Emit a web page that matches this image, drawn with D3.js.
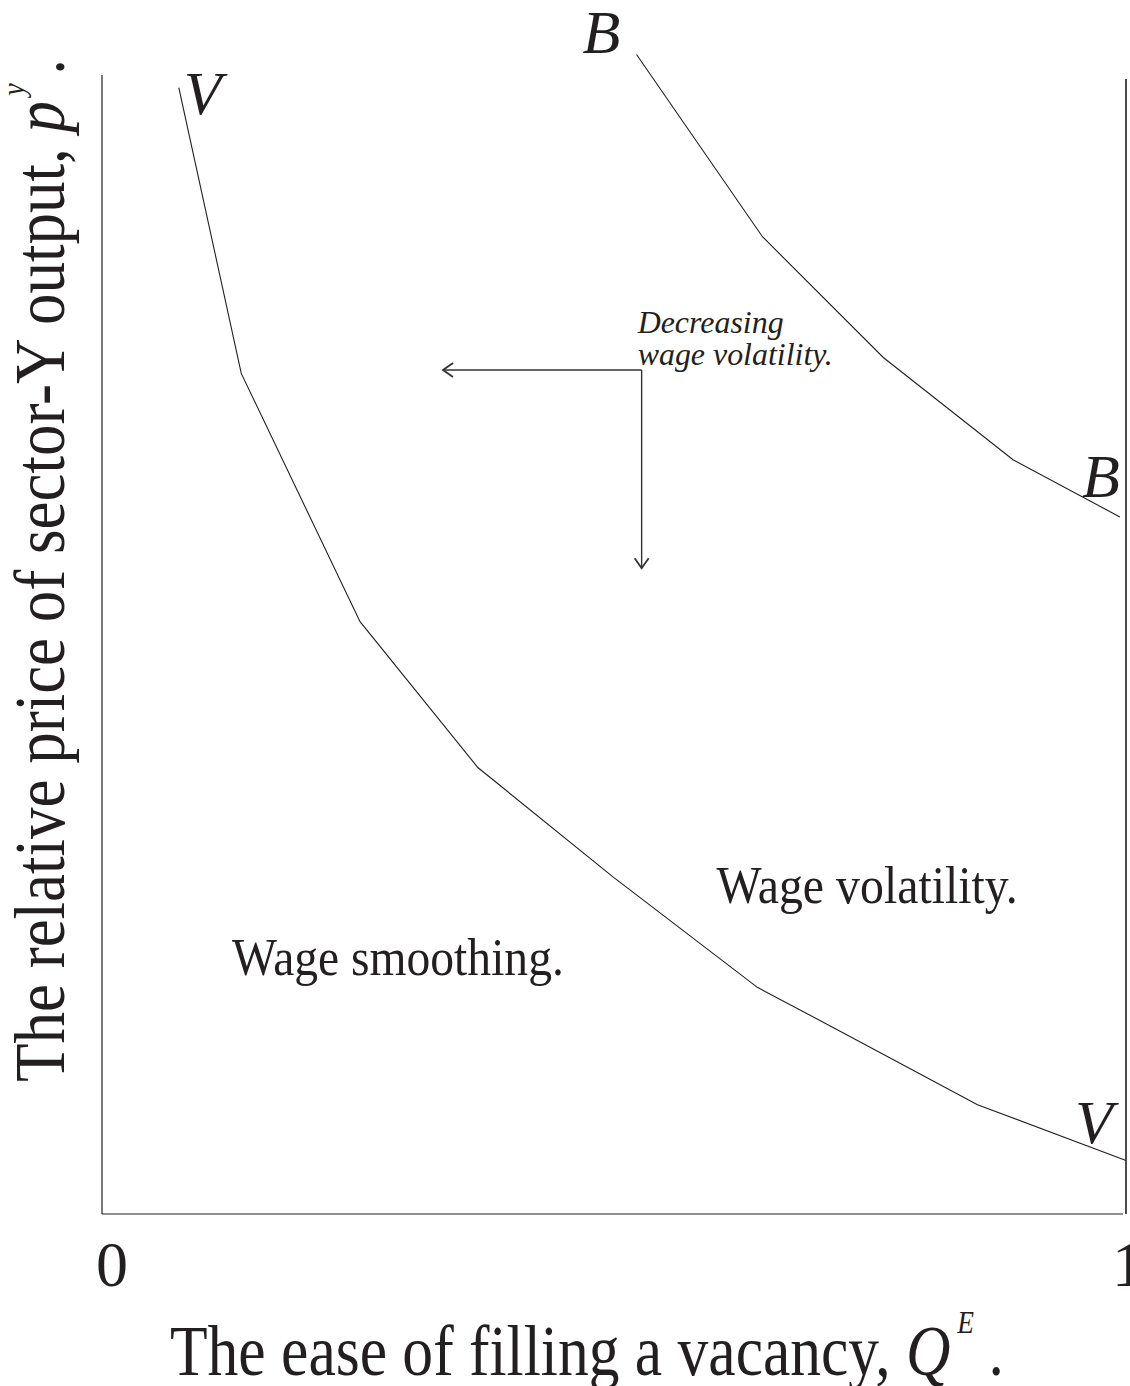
<!DOCTYPE html>
<html>
<head>
<meta charset="utf-8">
<script src="https://cdn.jsdelivr.net/npm/d3@7"></script>
<style>
  html, body { margin: 0; padding: 0; background: #fff; }
  svg { display: block; }
  text { font-family: "Liberation Serif", "Times New Roman", Times, serif; fill: #231f20; }
</style>
</head>
<body>
<svg id="chart" width="1130" height="1386"></svg>
<script>
// ---- data ----
const vCurveX = [0.075, 0.136, 0.252, 0.367, 0.499, 0.640, 0.724, 0.855, 1.000];
const vCurveY = [0.989, 0.738, 0.520, 0.392, 0.296, 0.199, 0.159, 0.096, 0.047];
const bCurveX = [0.522, 0.645, 0.763, 0.890, 0.994];
const bCurveY = [1.018, 0.858, 0.752, 0.662, 0.612];
const xTickValues = [0, 1];
const xTickLabels = ["0", "1"];
const regionLabels = ["Wage smoothing.", "Wage volatility."];
const arrowNote = ["Decreasing", "wage volatility."];
const arrowOrigin = [0.527, 0.741];   // [x, y] in data units
const arrowLeftEndX = 0.333;
const arrowDownEndY = 0.567;

const svg = d3.select("#chart");
const ink = "#231f20";

const x = d3.scaleLinear().domain([0, 1]).range([102, 1126]);
const y = d3.scaleLinear().domain([0, 1]).range([1214, 75]);

// ---- frame: left axis, bottom axis, right boundary ----
svg.append("line").attr("x1", x(0)).attr("x2", x(0)).attr("y1", y(1)).attr("y2", y(0))
  .attr("stroke", ink).attr("stroke-width", 1.2);
svg.append("line").attr("x1", x(0)).attr("x2", x(1) - 3).attr("y1", y(0)).attr("y2", y(0))
  .attr("stroke", ink).attr("stroke-width", 1.2);
svg.append("line").attr("x1", x(1)).attr("x2", x(1)).attr("y1", y(1) + 4).attr("y2", y(0))
  .attr("stroke", ink).attr("stroke-width", 1.6);

// ---- curves ----
const line = d3.line().x(d => x(d[0])).y(d => y(d[1]));
const vData = vCurveX.map((d, i) => [d, vCurveY[i]]);
const bData = bCurveX.map((d, i) => [d, bCurveY[i]]);
svg.append("path").datum(vData).attr("d", line)
  .attr("fill", "none").attr("stroke", ink).attr("stroke-width", 1.1);
svg.append("path").datum(bData).attr("d", line)
  .attr("fill", "none").attr("stroke", ink).attr("stroke-width", 1.1);

// ---- curve labels ----
function curveLabel(t, px, py) {
  svg.append("text").attr("x", px).attr("y", py)
    .attr("font-size", 62).attr("font-style", "italic").text(t);
}
curveLabel("V", x(vCurveX[0]) + 5, y(vCurveY[0]) + 26);
curveLabel("V", x(1) - 51, y(vCurveY[vCurveY.length - 1]) - 17);
curveLabel("B", x(bCurveX[0]) - 54, y(bCurveY[0]) - 2);
curveLabel("B", x(1) - 44, y(bCurveY[bCurveY.length - 1]) - 20);

// ---- arrows ----
const ox = x(arrowOrigin[0]), oy = y(arrowOrigin[1]);
const arrowStroke = "#333";
svg.append("line").attr("x1", ox).attr("y1", oy).attr("x2", x(arrowLeftEndX)).attr("y2", oy)
  .attr("stroke", arrowStroke).attr("stroke-width", 1.4);
svg.append("line").attr("x1", ox).attr("y1", oy).attr("x2", ox).attr("y2", y(arrowDownEndY))
  .attr("stroke", arrowStroke).attr("stroke-width", 1.4);
const lx = x(arrowLeftEndX);
svg.append("path").attr("d", `M${lx + 10},${oy - 7} L${lx},${oy} L${lx + 10},${oy + 7}`)
  .attr("fill", "none").attr("stroke", arrowStroke).attr("stroke-width", 1.8);
const dy = y(arrowDownEndY);
svg.append("path").attr("d", `M${ox - 7},${dy - 10} L${ox},${dy} L${ox + 7},${dy - 10}`)
  .attr("fill", "none").attr("stroke", arrowStroke).attr("stroke-width", 1.8);

// arrow note
const note = svg.append("text").attr("font-size", 31).attr("font-style", "italic")
  .attr("transform", `translate(${ox - 4},${oy - 37}) scale(1.03,1)`);
note.append("tspan").attr("x", 0).attr("y", 0).text(arrowNote[0]);
note.append("tspan").attr("x", 0).attr("y", 32).text(arrowNote[1]);

// ---- region labels ----
svg.append("text").attr("font-size", 52)
  .attr("transform", `translate(${x(0.127)},${975}) scale(0.915,1)`).text(regionLabels[0]);
svg.append("text").attr("font-size", 52)
  .attr("transform", `translate(${x(0.600)},${903}) scale(0.92,1)`).text(regionLabels[1]);

// ---- x tick labels ----
svg.selectAll("text.tick").data(xTickValues).enter().append("text")
  .attr("class", "tick")
  .attr("x", (d, i) => x(d) + (i === 0 ? 10 : 2))
  .attr("y", y(0) + 72)
  .attr("text-anchor", "middle")
  .attr("font-size", 64)
  .text((d, i) => xTickLabels[i]);

// ---- x axis title ----
const xt = svg.append("text").attr("font-size", 72)
  .attr("transform", `translate(170,1375) scale(0.855,1)`);
xt.append("tspan").text("The ease of filling a vacancy, ");
xt.append("tspan").attr("font-style", "italic").text("Q");
xt.append("tspan").attr("font-style", "italic").attr("font-size", 32).attr("dx", 8).attr("dy", -42).text("E");
xt.append("tspan").attr("dy", 42).attr("dx", 17).text(".");

// ---- y axis title ----
const yt = svg.append("text").attr("font-size", 72)
  .attr("transform", `translate(64,1082) rotate(-90) scale(0.875,1)`);
yt.append("tspan").text("The relative price of sector-Y output, ");
yt.append("tspan").attr("font-style", "italic").text("p");
yt.append("tspan").attr("font-style", "italic").attr("font-size", 32).attr("dx", 6).attr("dy", -40).text("y");
yt.append("tspan").attr("dy", 40).attr("dx", 10).text(".");
</script>
</body>
</html>
